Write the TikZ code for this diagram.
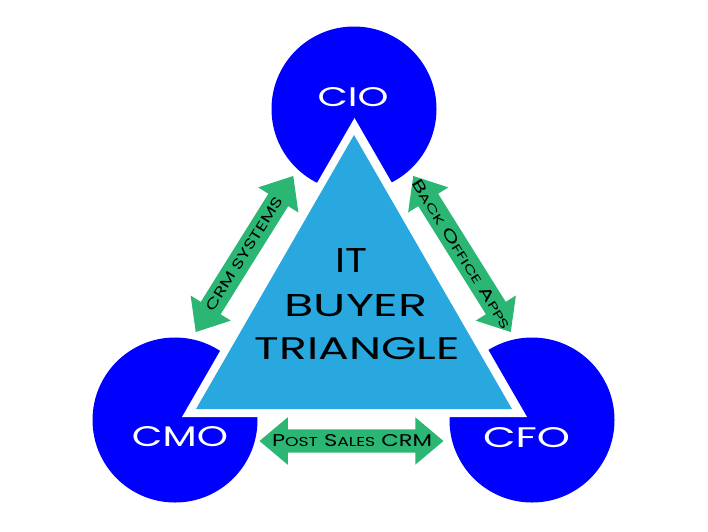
\documentclass[tikz,border=0pt]{standalone}
\usepackage{fontspec}
\setmainfont{Poppins}
\usetikzlibrary{shapes.arrows}
\definecolor{cblue}{HTML}{0000FF}
\definecolor{tblue}{HTML}{29A8E0}
\definecolor{agreen}{HTML}{2BB673}
\newcommand\fitbox[3]{\resizebox{#1pt}{#2pt}{#3}}
\newcommand\smc[1]{{\fontsize{7.6}{8}\selectfont #1}}
\begin{document}
\begin{tikzpicture}[x=1pt,y=-1pt,
  role/.style={circle,fill=cblue,minimum size=165pt,inner sep=0pt},
  roletext/.style={text=white,inner sep=0pt},
  dblarrow/.style={double arrow,fill=agreen,inner sep=0pt,text height=23pt,text depth=0pt,
    double arrow head extend=12pt,double arrow tip angle=80,minimum height=184pt},
  lbl/.style={inner sep=0pt,text=black},
]
\useasboundingbox (0,0) rectangle (708,531);
% role circles
\node[role] (cio) at (354,109) {};
\node[role] (cmo) at (175,420) {};
\node[role] (cfo) at (532,420) {};
% white border triangle
\coordinate (w1) at (354.5,118);
\coordinate (w2) at (182,417);
\coordinate (w3) at (527,417);
\fill[white] (w1) -- (w2) -- (w3) -- cycle;
% light blue triangle
\coordinate (b1) at (354,135);
\coordinate (b2) at (196,409);
\coordinate (b3) at (512,409);
\fill[tblue] (b1) -- (b2) -- (b3) -- cycle;
% arrows
\node[dblarrow,rotate=58] (crm) at (244.5,254) {};
\node[dblarrow,rotate=-58] (bo) at (462,254) {};
\node[dblarrow] (ps) at (351.5,441) {};
% arrow labels
\node[lbl,rotate=58] (crmt) at (crm.center) {\fitbox{132}{10}{CRM SYSTEMS}};
\node[lbl,rotate=-58] (bot) at (bo.center) {\fitbox{174}{11}{B\smc{ACK} O\smc{FFICE} A\smc{PPS}}};
\node[lbl] (pst) at (352,441) {\fitbox{160}{12}{P\smc{OST} S\smc{ALES} CRM}};
% role labels
\node[roletext] (ciot) at (353,97.5) {\fitbox{71}{19}{CIO}};
\node[roletext] (cmot) at (180,437) {\fitbox{96}{20}{CMO}};
\node[roletext] (cfot) at (526.5,437.5) {\fitbox{87}{20}{CFO}};
% centre title
\node[lbl] (t1) at (351,260.5) {\fitbox{32}{24}{IT}};
\node[lbl] (t2) at (356,306) {\fitbox{143}{22}{BUYER}};
\node[lbl] (t3) at (357.5,348.5) {\fitbox{205}{22}{TRIANGLE}};
\end{tikzpicture}
\end{document}
